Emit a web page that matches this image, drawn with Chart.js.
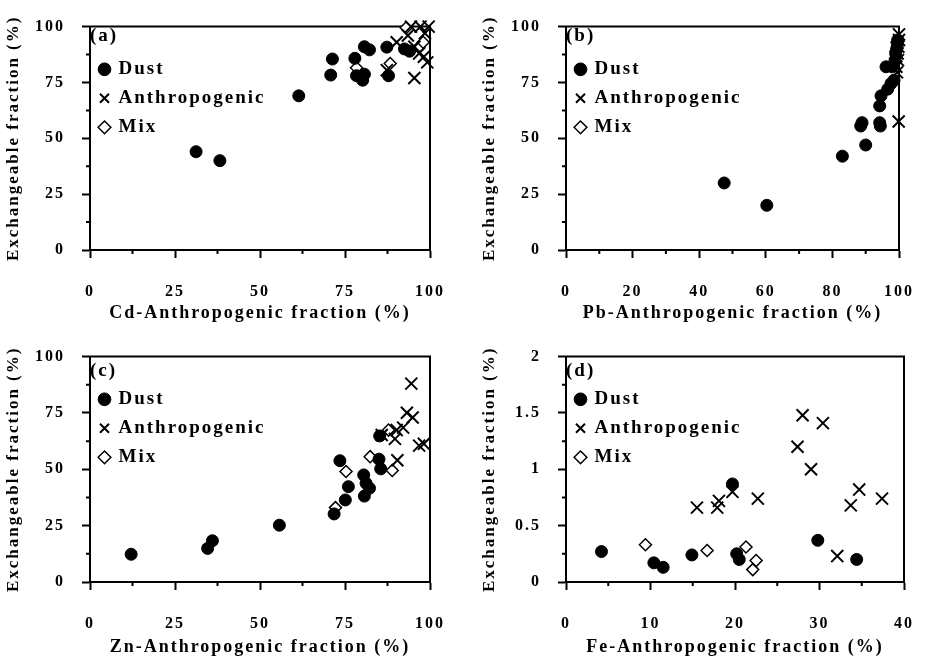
<!DOCTYPE html>
<html>
<head>
<meta charset="utf-8">
<script src="https://cdn.jsdelivr.net/npm/chart.js@4.4.1/dist/chart.umd.min.js"></script>
<style>
  body { margin: 0; background: #fff; }
  #wrap { position: relative; width: 938px; height: 659px; }
  canvas { position: absolute; }
</style>
</head>
<body>
<div id="wrap">
  <canvas id="panel-a" width="469" height="330" style="left:0;top:0"></canvas>
  <canvas id="panel-b" width="469" height="330" style="left:469px;top:0"></canvas>
  <canvas id="panel-c" width="469" height="329" style="left:0;top:330px"></canvas>
  <canvas id="panel-d" width="469" height="329" style="left:469px;top:330px"></canvas>
</div>
<script>
// series: [anthropogenic fraction %, exchangeable fraction %]
const seriesNames = ['Dust', 'Anthropogenic', 'Mix'];
const yTitle = 'Exchangeable fraction (%)';

const cdDust = [[31.2, 44], [38.2, 40], [61.4, 69], [71.3, 85.5], [70.8, 78.3], [77.9, 85.8], [80.7, 91], [82.2, 89.6],
  [78.4, 78], [80.2, 76], [80.7, 78.7], [87.3, 90.8], [87.8, 78], [92.5, 90], [94, 89]];
const cdAnthro = [[87.3, 80.5], [90.2, 93], [94.4, 100], [97.2, 100], [99.6, 100], [95.4, 91], [96.8, 88], [98.2, 86.5],
  [99.2, 84], [95.4, 77], [98.5, 97], [93.5, 96]];
const cdMix = [[78.4, 81.6], [88.3, 83.5], [93, 99.5], [96.8, 91], [98, 93]];

const pbDust = [[47.5, 30], [60.3, 20], [83, 42], [90, 47], [88.5, 55.5], [88.9, 57], [94.2, 57], [94.4, 55.5],
  [94.2, 64.5], [94.6, 69], [96.6, 72], [97.6, 74.5], [98.5, 76], [96.1, 82], [98, 82], [98.8, 85], [99, 88],
  [99.3, 90], [99.5, 92], [99.6, 94]];
const pbAnthro = [[99.9, 57.5], [99.4, 79.5], [100, 96.5], [100, 94], [99.8, 91], [99.6, 88], [99.7, 85], [99.2, 82]];
const pbMix = [[99.4, 93], [99.1, 89]];

const znDust = [[12.1, 12.3], [34.6, 14.9], [36, 18.3], [55.7, 25.2], [71.8, 30.2], [75.1, 36.4], [76, 42.3],
  [73.5, 53.8], [80.5, 47.5], [81.2, 43.8], [82.2, 41.6], [80.7, 38.1], [85, 54.5], [85.5, 50.2], [85.2, 64.8]];
const znAnthro = [[85.8, 65.2], [89.7, 63.5], [92.1, 68.5], [90.2, 67.4], [93.2, 75.1], [94.9, 73], [96.8, 60.5],
  [98.2, 61.3], [90.4, 54], [94.5, 88]];
const znMix = [[72.2, 33], [75.3, 49], [82.4, 55.6], [88.9, 49.5], [87.8, 67.4]];

const feDust = [[4.2, 0.27], [10.4, 0.17], [11.5, 0.13], [14.9, 0.24], [19.7, 0.87], [20.2, 0.25], [20.5, 0.2],
  [29.8, 0.37], [34.4, 0.2]];
const feAnthro = [[15.5, 0.66], [17.9, 0.66], [18.1, 0.72], [19.7, 0.8], [22.7, 0.74], [28, 1.48], [30.4, 1.41],
  [27.4, 1.2], [29, 1], [34.7, 0.82], [33.7, 0.68], [37.4, 0.74], [32.1, 0.23]];
const feMix = [[9.4, 0.33], [16.7, 0.28], [21.3, 0.31], [22.5, 0.19], [22.1, 0.11]];

const FONT = "'Liberation Serif', 'Times New Roman', serif";

function toPoints(pairs) {
  return pairs.map(p => ({ x: p[0], y: p[1] }));
}

function isMajor(v, step) {
  const r = v / step;
  return Math.abs(r - Math.round(r)) < 1e-6;
}

// box on top/right, short minor ticks, wide letter spacing like the original
const framePlugin = {
  id: 'frame',
  beforeUpdate(chart) { chart.ctx.letterSpacing = '2px'; },
  beforeDraw(chart) { chart.ctx.letterSpacing = '2px'; },
  beforeDatasetsDraw(chart) {
    const { ctx, chartArea: a, scales } = chart;
    ctx.save();
    ctx.strokeStyle = '#000';
    ctx.lineWidth = 2;
    ctx.beginPath();
    ctx.moveTo(a.left - 1, a.top);
    ctx.lineTo(a.right, a.top);
    ctx.lineTo(a.right, a.bottom + 1);
    ctx.stroke();

    const xs = scales.x, ys = scales.y;
    ctx.beginPath();
    xs.ticks.forEach(t => {
      if (isMajor(t.value, xs.options.majorStep)) return;
      const px = xs.getPixelForValue(t.value);
      ctx.moveTo(px, a.bottom);
      ctx.lineTo(px, a.bottom + 4);
    });
    ys.ticks.forEach(t => {
      if (isMajor(t.value, ys.options.majorStep)) return;
      const py = ys.getPixelForValue(t.value);
      ctx.moveTo(a.left, py);
      ctx.lineTo(a.left - 4, py);
    });
    ctx.stroke();
    ctx.restore();
  }
};

function axis(min, max, major, minor, title, titleSize, titlePad, fit, tickPad) {
  return {
    type: 'linear',
    min: min,
    max: max,
    majorStep: major,
    afterFit: fit,
    border: { display: true, color: '#000', width: 2 },
    grid: {
      drawOnChartArea: false,
      drawTicks: true,
      tickLength: 8,
      tickWidth: 2,
      tickColor: c => isMajor(c.tick.value, major) ? '#000' : 'rgba(0,0,0,0)'
    },
    ticks: {
      stepSize: minor,
      autoSkip: false,
      maxRotation: 0,
      color: '#000',
      padding: tickPad,
      font: { family: FONT, size: 16, weight: 'bold' },
      callback: v => isMajor(v, major) ? String(v) : ''
    },
    title: {
      display: true,
      text: title,
      color: '#000',
      font: { family: FONT, size: titleSize, weight: 'bold' },
      padding: titlePad
    }
  };
}

function makePanel(id, tag, dust, anthro, mix, xSpec, ySpec, box) {
  const ctx = document.getElementById(id).getContext('2d');
  return new Chart(ctx, {
    type: 'scatter',
    data: {
      datasets: [
        {
          label: seriesNames[0],
          data: toPoints(dust),
          pointStyle: 'circle',
          pointRadius: 6,
          backgroundColor: '#000',
          borderColor: '#000',
          borderWidth: 1,
          clip: false,
          order: 1
        },
        {
          label: seriesNames[1],
          data: toPoints(anthro),
          pointStyle: 'crossRot',
          pointRadius: 8.5,
          backgroundColor: '#000',
          borderColor: '#000',
          borderWidth: 2,
          clip: false,
          order: 0
        },
        {
          label: seriesNames[2],
          data: toPoints(mix),
          pointStyle: 'rectRot',
          pointRadius: 6,
          backgroundColor: '#fff',
          borderColor: '#000',
          borderWidth: 1.5,
          clip: false,
          order: 2
        }
      ]
    },
    options: {
      responsive: false,
      animation: false,
      events: [],
      layout: { padding: { left: 0, top: box.top, right: box.right, bottom: 0 } },
      scales: {
        x: axis(xSpec.min, xSpec.max, xSpec.major, xSpec.minor, xSpec.title, 18,
          { top: 0, bottom: box.xTitlePad }, s => { s.height = box.xHeight; }, 24),
        y: axis(ySpec.min, ySpec.max, ySpec.major, ySpec.minor, yTitle, 17,
          { top: box.yTitlePad, bottom: 0 }, s => { s.width = box.yWidth; }, 17)
      },
      plugins: {
        tooltip: { enabled: false },
        legend: {
          position: 'chartArea',
          align: 'start',
          title: {
            display: true,
            text: tag,
            position: 'start',
            color: '#000',
            font: { family: FONT, size: 19, weight: 'bold' },
            padding: { top: box.tagTop, bottom: box.tagBottom }
          },
          labels: {
            usePointStyle: true,
            boxWidth: 9,
            boxHeight: 9,
            padding: 10,
            color: '#000',
            font: { family: FONT, size: 19, weight: 'bold' },
            sort: (a, b) => a.datasetIndex - b.datasetIndex
          }
        }
      }
    },
    plugins: [framePlugin]
  });
}

const pct25 = { min: 0, max: 100, major: 25, minor: 12.5 };
const topLeft = { top: 15, right: 26, yWidth: 90, xHeight: 80, xTitlePad: 6, yTitlePad: 3, tagTop: 27, tagBottom: 0 };
const topRight = { top: 15, right: 21, yWidth: 97, xHeight: 80, xTitlePad: 6, yTitlePad: 10, tagTop: 27, tagBottom: 0 };
const botLeft = { top: 19, right: 26, yWidth: 90, xHeight: 77, xTitlePad: 1, yTitlePad: 3, tagTop: 32, tagBottom: -5 };
const botRight = { top: 19, right: 21, yWidth: 97, xHeight: 77, xTitlePad: 1, yTitlePad: 10, tagTop: 32, tagBottom: -5 };

makePanel('panel-a', '(a)', cdDust, cdAnthro, cdMix,
  Object.assign({ title: 'Cd-Anthropogenic fraction (%)' }, pct25), pct25, topLeft);
makePanel('panel-b', '(b)', pbDust, pbAnthro, pbMix,
  { min: 0, max: 100, major: 20, minor: 10, title: 'Pb-Anthropogenic fraction (%)' }, pct25, topRight);
makePanel('panel-c', '(c)', znDust, znAnthro, znMix,
  Object.assign({ title: 'Zn-Anthropogenic fraction (%)' }, pct25), pct25, botLeft);
makePanel('panel-d', '(d)', feDust, feAnthro, feMix,
  { min: 0, max: 40, major: 10, minor: 5, title: 'Fe-Anthropogenic fraction (%)' },
  { min: 0, max: 2, major: 0.5, minor: 0.25 }, botRight);
</script>
</body>
</html>
